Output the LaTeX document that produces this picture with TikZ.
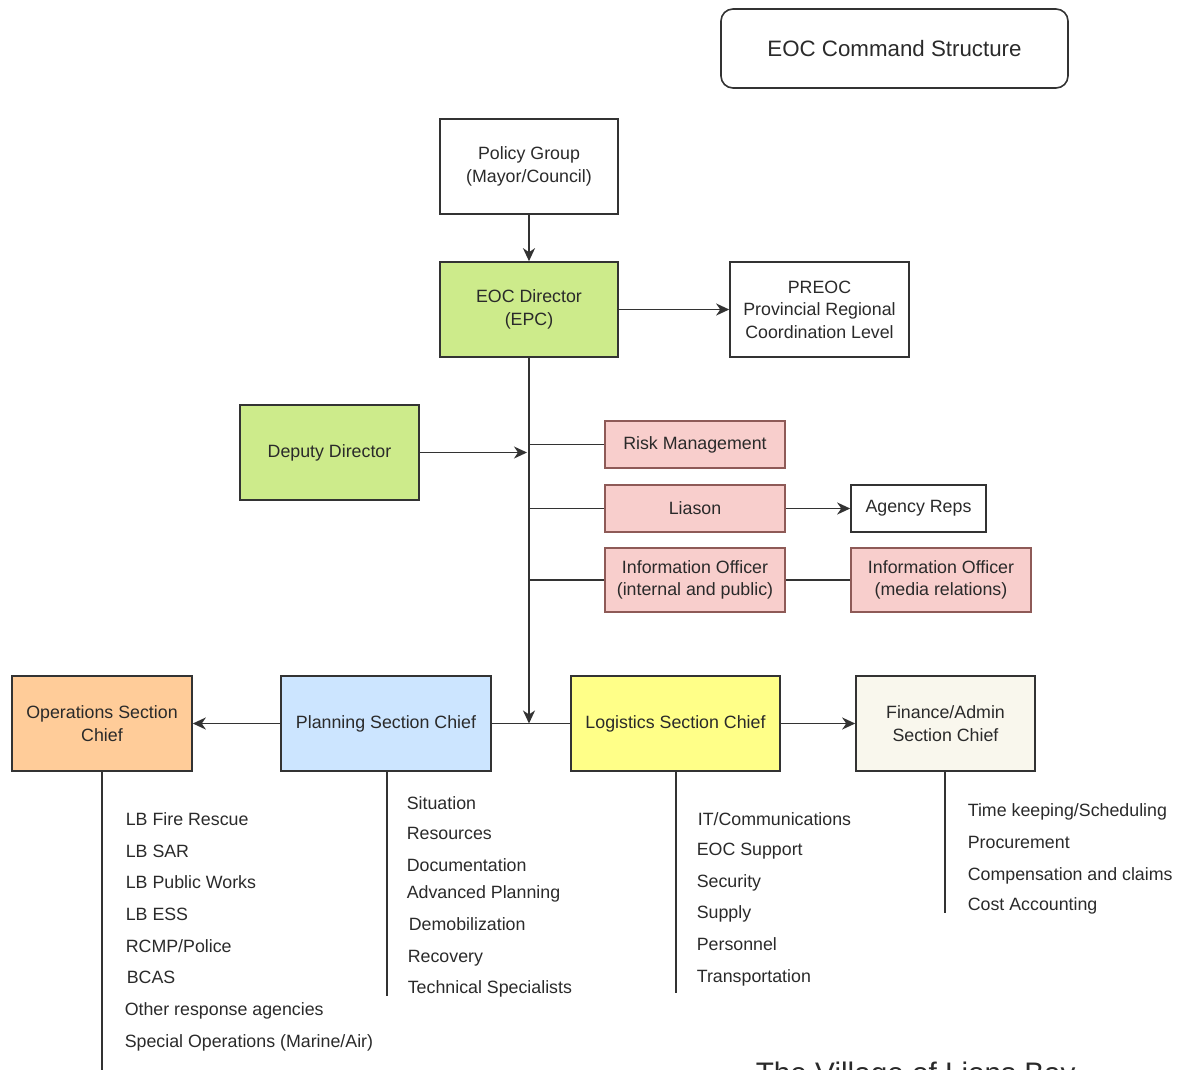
\documentclass[tikz,border=0pt]{standalone}
\usepackage{fontspec}
\setmainfont{Liberation Sans}
\usetikzlibrary{arrows.meta, positioning}

\definecolor{boxline}{HTML}{333333}
\definecolor{txtgray}{HTML}{2A2A2A}
\definecolor{dirgreen}{HTML}{CDEB8B}
\definecolor{riskpink}{HTML}{F8CECC}
\definecolor{pinkline}{HTML}{8E5A57}
\definecolor{opsorange}{HTML}{FFCC99}
\definecolor{planblue}{HTML}{CCE5FF}
\definecolor{logyellow}{HTML}{FFFF88}
\definecolor{finbeige}{HTML}{F9F7ED}

\begin{document}
\begin{tikzpicture}[x=1pt, y=-1pt, line width=1.6pt, draw=boxline,
    box/.style={draw=boxline, rectangle, align=center, text=txtgray, inner sep=0pt,
        font=\fontsize{17.8}{22.5}\selectfont},
    item/.style={anchor=base west, text=txtgray, inner sep=0pt,
        font=\fontsize{17.8}{21}\selectfont},
    link/.style={draw=boxline, line width=1.9pt},
    arr/.style={link, -{Stealth[length=13pt, width=12pt, inset=4pt]}}]
    \useasboundingbox (0,0) rectangle (1178,1069);

    % title and top of the chain
    \node [box, rounded corners=12pt, minimum width=347pt, minimum height=79pt,
        font=\fontsize{22.3}{26}\selectfont] (title) at (894.5,48.5) {EOC Command Structure};
    \node [box, minimum width=178pt, minimum height=95pt] (policy) at (529,166.5) {Policy Group\\(Mayor/Council)};
    \node [box, fill=dirgreen, minimum width=178pt, minimum height=95pt] (director) at (529,309.5) {EOC Director\\(EPC)};
    \node [box, minimum width=179pt, minimum height=95pt] (preoc) at (819.5,309.5) {PREOC\\Provincial Regional\\Coordination Level};
    \node [box, fill=dirgreen, minimum width=179pt, minimum height=95pt] (deputy) at (329.5,452.5) {Deputy Director};

    % command staff
    \node [box, fill=riskpink, draw=pinkline, minimum width=180pt, minimum height=47pt] (risk) at (695,444.5) {Risk Management};
    \node [box, fill=riskpink, draw=pinkline, minimum width=180pt, minimum height=47pt] (liason) at (695,508.5) {Liason};
    \node [box, minimum width=135pt, minimum height=47pt] (agency) at (918.5,508.5) {Agency Reps};
    \node [box, fill=riskpink, draw=pinkline, minimum width=180pt, minimum height=64pt] (infoint) at (695,580) {Information Officer\\(internal and public)};
    \node [box, fill=riskpink, draw=pinkline, minimum width=180pt, minimum height=64pt] (infomed) at (941,580) {Information Officer\\(media relations)};

    % general staff
    \node [box, fill=opsorange, minimum width=180pt, minimum height=95pt] (ops) at (102,723.5) {Operations Section\\Chief};
    \node [box, fill=planblue, minimum width=210pt, minimum height=95pt] (plan) at (386,723.5) {Planning Section Chief};
    \node [box, fill=logyellow, minimum width=209pt, minimum height=95pt] (logi) at (675.5,723.5) {Logistics Section Chief};
    \node [box, fill=finbeige, minimum width=179pt, minimum height=95pt] (fin) at (945.5,723.5) {Finance/Admin\\Section Chief};

    \coordinate (trunkend) at (director.south |- plan.east);
    \coordinate (deputyend) at (527,452.5);

    \draw [arr] (policy) -- (director);
    \draw [arr] (director) -- (preoc);
    \draw [arr] (director.south) -- (trunkend);
    \draw [arr] (deputy) -- (deputyend);
    \draw [link] (director.south |- risk.west) -- (risk.west);
    \draw [link] (director.south |- liason.west) -- (liason.west);
    \draw [link] (director.south |- infoint.west) -- (infoint.west);
    \draw [arr] (liason) -- (agency);
    \draw [link] (infoint) -- (infomed);
    \draw [arr] (plan) -- (ops);
    \draw [link] (plan) -- (logi);
    \draw [arr] (logi) -- (fin);

    % section lists
    \coordinate (opsend) at (102,1075);
    \coordinate (planend) at (387,996);
    \coordinate (logiend) at (676,993);
    \coordinate (finend) at (945,913);
    \draw [link] (ops.south -| opsend) -- (opsend);
    \draw [link] (plan.south -| planend) -- (planend);
    \draw [link] (logi.south -| logiend) -- (logiend);
    \draw [link] (fin.south -| finend) -- (finend);

    \foreach \xx/\yy/\txt [count=\i] in {125/825/{LB Fire Rescue}, 125/857/{LB SAR}, 125/888/{LB Public Works},
        125/920/{LB ESS}, 125/952/{RCMP/Police}, 126/983/{BCAS}, 124/1015/{Other response agencies},
        124/1047/{Special Operations (Marine/Air)}}
        \node [item] (ops-\i) at (\xx,\yy) {\txt};
    \foreach \xx/\yy/\txt [count=\i] in {406/809/{Situation}, 406/839/{Resources}, 406/871/{Documentation},
        406/898/{Advanced Planning}, 408/930/{Demobilization}, 407/962/{Recovery}, 407/993/{Technical Specialists}}
        \node [item] (plan-\i) at (\xx,\yy) {\txt};
    \foreach \xx/\yy/\txt [count=\i] in {697/825/{IT/Communications}, 696/855/{EOC Support}, 696/887/{Security},
        696/918/{Supply}, 696/950/{Personnel}, 696/982/{Transportation}}
        \node [item] (logi-\i) at (\xx,\yy) {\txt};
    \foreach \xx/\yy/\txt [count=\i] in {967/816/{Time keeping/Scheduling}, 967/848/{Procurement},
        967/880/{Compensation and claims}, 967/910/{Cost Accounting}}
        \node [item] (fin-\i) at (\xx,\yy) {\txt};

    % caption, cut by the page edge as in the source
    \node [item, font=\fontsize{29.7}{34}\selectfont] (village) at (755,1083.5) {The Village of Lions Bay};
\end{tikzpicture}
\end{document}
